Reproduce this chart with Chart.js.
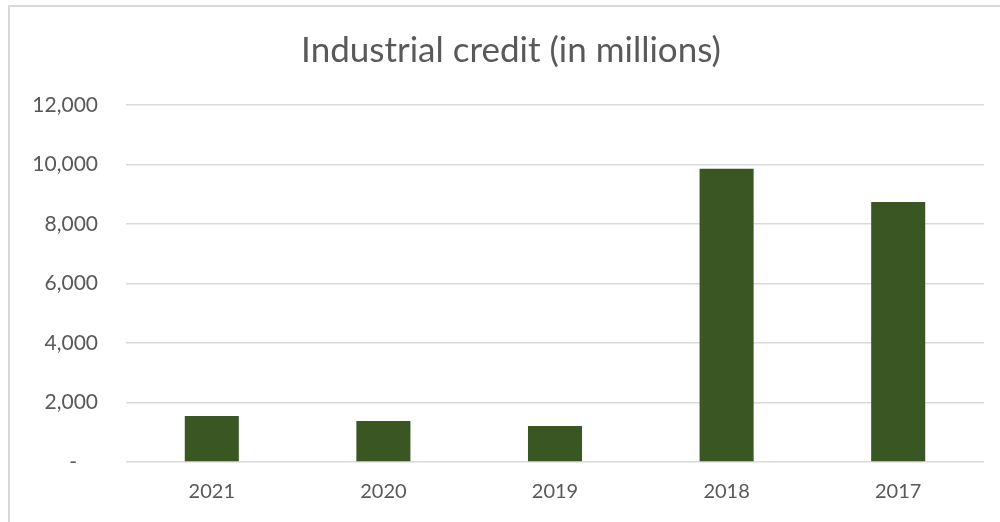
<!DOCTYPE html>
<html>
<head>
<meta charset="utf-8">
<script src="https://cdn.jsdelivr.net/npm/chart.js@4/dist/chart.umd.min.js"></script>
<style>
  html, body { margin: 0; padding: 0; background: #ffffff; }
  #wrap { position: relative; width: 1000px; height: 522px; }
</style>
</head>
<body>
<div id="wrap"><canvas id="chart"></canvas></div>
<script>
// Industrial credit by year (in millions)
const categories = ['2021', '2020', '2019', '2018', '2017'];
const creditValues = [1544, 1376, 1208, 9855, 8737];
const yTickValues = [0, 2000, 4000, 6000, 8000, 10000, 12000];
const yTickLabels = ['-', '2,000', '4,000', '6,000', '8,000', '10,000', '12,000'];

const textColor = '#595959';
const gridColor = '#d9d9d9';
const fontFamily = 'Lato, "Open Sans", sans-serif';

// Light frame along the top and left edges of the chart box,
// and the title centred over the framed area rather than the full canvas
const framePlugin = {
  id: 'frame',
  afterLayout(chart) {
    if (chart.titleBlock) {
      chart.titleBlock.left = 38;
    }
  },
  beforeDraw(chart) {
    const ctx = chart.ctx;
    ctx.save();
    ctx.strokeStyle = gridColor;
    ctx.lineWidth = 2;
    ctx.beginPath();
    ctx.moveTo(9, chart.height);
    ctx.lineTo(9, 6);
    ctx.lineTo(chart.width, 6);
    ctx.stroke();
    ctx.restore();
  }
};

new Chart(document.getElementById('chart'), {
  type: 'bar',
  data: {
    labels: categories,
    datasets: [{
      data: creditValues,
      backgroundColor: '#3a5623',
      borderWidth: 0,
      categoryPercentage: 1,
      barPercentage: 0.315
    }]
  },
  options: {
    responsive: true,
    maintainAspectRatio: false,
    animation: false,
    layout: { padding: { left: 0, right: 16, top: 0, bottom: 0 } },
    plugins: {
      legend: { display: false },
      tooltip: { enabled: false },
      title: {
        display: true,
        text: 'Industrial credit (in millions)',
        color: textColor,
        font: { family: fontFamily, size: 35, weight: '400', lineHeight: 1.2 },
        padding: { top: 30, bottom: 33 }
      }
    },
    scales: {
      x: {
        grid: { display: false, drawTicks: false },
        border: { display: false },
        ticks: {
          color: textColor,
          font: { family: fontFamily, size: 20 },
          padding: 18
        },
        afterFit(scale) { scale.height = 60; }
      },
      y: {
        min: 0,
        max: 12000,
        afterBuildTicks(scale) {
          scale.ticks = yTickValues.map(v => ({ value: v }));
        },
        grid: { color: gridColor, lineWidth: 1.5, drawTicks: false },
        border: { display: false },
        ticks: {
          color: textColor,
          font: { family: fontFamily, size: 21 },
          padding: 28,
          callback(value) {
            const i = yTickValues.indexOf(value);
            const label = i >= 0 ? yTickLabels[i] : '';
            return value === 0 ? label + '\u2002\u2002' : label;
          }
        },
        afterFit(scale) { scale.width = 126; }
      }
    }
  },
  plugins: [framePlugin]
});
</script>
</body>
</html>
